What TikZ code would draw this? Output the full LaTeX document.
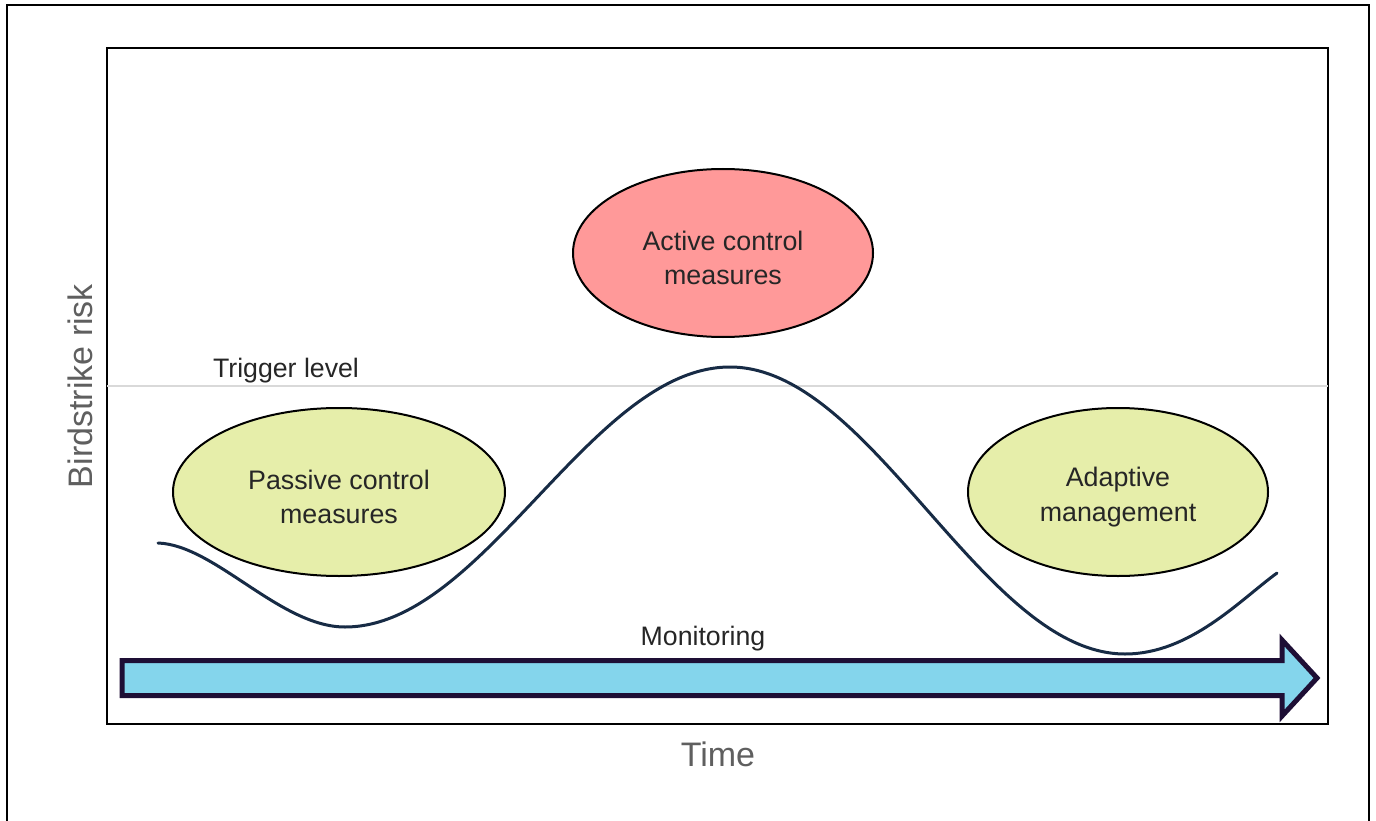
\documentclass[tikz,border=0pt]{standalone}
\usepackage{fontspec}
\setmainfont{Liberation Sans}
\usetikzlibrary{shapes.geometric}

\definecolor{riskcurve}{HTML}{172B45}
\definecolor{passivefill}{HTML}{E6EEAA}
\definecolor{activefill}{HTML}{FF9999}
\definecolor{monitorfill}{HTML}{84D5EC}
\definecolor{monitorline}{HTML}{1E0F35}
\definecolor{axistext}{HTML}{5F5F5F}
\definecolor{bodytext}{HTML}{262626}

\tikzset{
    measure/.style={ellipse, draw=black, line width=2pt, inner sep=0pt},
    measuretext/.style={align=center, text=bodytext, font=\fontsize{26.8}{34.5}\selectfont},
    axislabel/.style={text=axistext, font=\fontsize{34}{38}\selectfont},
    plainlabel/.style={text=bodytext, font=\fontsize{26.7}{30}\selectfont}
}

\begin{document}
\begin{tikzpicture}[x=1pt, y=-1pt]
            \useasboundingbox (0, 0) rectangle (1376, 821);

            % frames
            \draw[line width=2pt] (7, 821) -- (7, 5) -- (1369, 5) -- (1369, 821);
            \draw[line width=2.5pt] (107, 48) rectangle (1328, 724);

            % trigger level
            \coordinate (TL) at (107, 386);
            \coordinate (TR) at (1328, 386);
            \draw[line width=2pt, black!15] (TL) -- (TR);
            \node[plainlabel] (trigger) at (286, 371) {Trigger level};

            % risk curve
            \coordinate (S) at (158, 543);
            \coordinate (M1) at (345, 627);
            \coordinate (P) at (730, 367);
            \coordinate (M2) at (1125, 654);
            \coordinate (E) at (1277, 573);
            \draw[line width=3pt, riskcurve, line cap=round]
                (S) .. controls (215, 545) and (280, 627) .. (M1)
                    .. controls (484, 627) and (591, 367) .. (P)
                    .. controls (872, 367) and (983, 654) .. (M2)
                    .. controls (1190, 654) and (1240, 600) .. (E);

            % measures
            \node[measure, fill=passivefill, minimum width=332, minimum height=168]
                (passive) at (339, 492) {};
            \node[measure, fill=activefill, minimum width=300, minimum height=168]
                (active) at (723, 253) {};
            \node[measure, fill=passivefill, minimum width=300, minimum height=168]
                (adaptive) at (1118, 492) {};
            \node[measuretext, yshift=-5pt] (passivetext) at (passive) {Passive control\\measures};
            \node[measuretext, yshift=-5pt] (activetext) at (active) {Active control\\measures};
            \node[measuretext, yshift=-5pt] (adaptivetext) at (adaptive) {Adaptive\\management};

            % monitoring arrow
            \draw[line width=5pt, draw=monitorline, fill=monitorfill, line join=miter]
                (122, 660.5) -- (1282, 660.5) -- (1282, 640) -- (1317, 678)
                -- (1282, 716) -- (1282, 695.5) -- (122, 695.5) -- cycle;
            \node[plainlabel] (monitoring) at (703, 639) {Monitoring};

            % axes
            \node[axislabel, rotate=90] (risk) at (80, 386) {Birdstrike risk};
            \node[axislabel] (time) at (718, 754) {Time};
        \end{tikzpicture}
\end{document}
